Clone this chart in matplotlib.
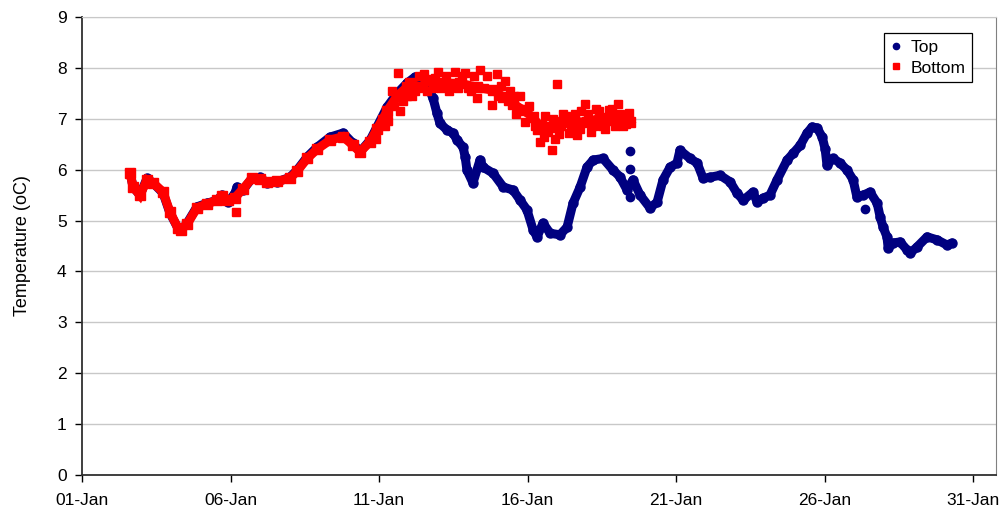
import numpy as np
import pandas as pd
import matplotlib
matplotlib.use('Agg')
import matplotlib.pyplot as plt
import matplotlib.dates as mdates
from matplotlib.lines import Line2D

plt.rcParams['font.family'] = ['Liberation Sans', 'DejaVu Sans']

# days since 01-Jan 00:00, temperature in oC
top_day = [1.62, 1.72, 1.95, 2.19, 2.39, 2.73, 2.96, 3.23, 3.33, 3.54, 3.87, 4.21, 4.55, 4.71, 4.92,
           5.15, 5.22, 5.42, 5.72, 5.99, 6.23, 6.57, 7.00, 7.24, 7.58, 7.91, 8.35, 8.79, 9.12, 9.36,
           9.70, 9.93, 10.27, 10.61, 10.94, 11.21, 11.55, 11.82, 11.95, 12.05, 12.29, 12.49, 12.63, 12.83, 12.90,
           12.96, 13.16, 13.40, 13.50, 13.84, 14.18, 14.51, 14.75, 14.98, 15.19, 15.32, 15.52, 15.76, 16.09, 16.33,
           16.53, 16.77, 17.00, 17.21, 17.54, 17.88, 18.11, 18.35, 18.55, 18.79, 19.12, 19.36, 19.56, 19.80, 20.03,
           20.13, 20.47, 20.71, 20.91, 21.14, 21.48, 21.82, 22.05, 22.26, 22.59, 22.73, 22.93, 23.16, 23.40, 23.74,
           23.94, 24.18, 24.41, 24.58, 24.75, 24.92, 25.02, 25.08, 25.29, 25.52, 25.76, 25.96, 26.09, 26.30, 26.53,
           26.77, 26.87, 26.97, 27.10, 27.14, 27.31, 27.54, 27.78, 27.88, 28.11, 28.45, 28.79, 29.12, 29.29]
top_temp = [5.93, 5.66, 5.50, 5.83, 5.74, 5.54, 5.15, 4.85, 4.81, 4.95, 5.27, 5.34, 5.40, 5.50, 5.36,
            5.54, 5.66, 5.60, 5.83, 5.85, 5.74, 5.76, 5.85, 5.99, 6.25, 6.44, 6.64, 6.72, 6.52, 6.35,
            6.58, 6.84, 7.23, 7.50, 7.70, 7.82, 7.76, 7.40, 7.11, 6.91, 6.78, 6.72, 6.58, 6.44, 6.25,
            5.99, 5.74, 6.19, 6.05, 5.93, 5.66, 5.60, 5.40, 5.21, 4.81, 4.68, 4.95, 4.75, 4.72, 4.87,
            5.34, 5.66, 6.05, 6.19, 6.22, 5.99, 5.86, 5.60, 5.80, 5.50, 5.25, 5.36, 5.80, 6.05, 6.13,
            6.38, 6.22, 6.13, 5.83, 5.85, 5.89, 5.76, 5.54, 5.40, 5.56, 5.36, 5.44, 5.50, 5.80, 6.19,
            6.32, 6.48, 6.72, 6.84, 6.82, 6.64, 6.40, 6.09, 6.22, 6.13, 5.99, 5.80, 5.46, 5.50, 5.56,
            5.34, 5.07, 4.87, 4.68, 4.46, 4.56, 4.58, 4.42, 4.36, 4.48, 4.68, 4.62, 4.52, 4.56]

# stray Top readings
top_out_day = [18.45, 18.45, 18.45, 26.36]
top_out_temp = [6.37, 6.01, 5.46, 5.22]

bottom_day = [1.62, 1.72, 1.95, 2.19, 2.39, 2.73, 2.96, 3.23, 3.33, 3.54, 3.87, 4.21, 4.55, 4.71, 4.92,
              5.15, 5.42, 5.72, 5.99, 6.23, 6.57, 7.00, 7.24, 7.58, 7.91, 8.35, 8.79, 9.12, 9.36, 9.70,
              9.93, 10.27, 10.61, 10.94, 11.04, 11.38, 11.72, 12.15, 12.73, 13.30, 13.84, 14.18, 14.51, 14.85,
              15.19, 15.42, 15.76, 16.09, 16.53, 17.00, 17.44, 17.88, 18.35, 18.45]
bottom_temp = [5.93, 5.66, 5.50, 5.80, 5.74, 5.56, 5.17, 4.85, 4.82, 4.93, 5.25, 5.33, 5.40, 5.48, 5.40,
               5.45, 5.62, 5.83, 5.82, 5.75, 5.77, 5.83, 5.97, 6.22, 6.40, 6.58, 6.65, 6.48, 6.35, 6.55,
               6.80, 7.15, 7.45, 7.62, 7.70, 7.62, 7.76, 7.70, 7.70, 7.62, 7.56, 7.43, 7.30, 7.17,
               7.03, 6.84, 6.84, 6.88, 6.94, 6.94, 7.01, 7.03, 7.01, 6.94]

# scattered Bottom readings around the trace
bottom_sc_day = [5.19, 9.90, 10.10, 10.20, 10.30, 10.45, 10.50, 10.64, 10.70, 10.80, 10.95, 11.10, 11.20,
                 11.35, 11.50, 11.60, 11.80, 11.90, 12.00, 12.10, 12.25, 12.35, 12.45, 12.55, 12.65, 12.80,
                 12.90, 13.00, 13.10, 13.20, 13.30, 13.40, 13.55, 13.65, 13.80, 13.97, 14.00, 14.10, 14.25,
                 14.35, 14.40, 14.55, 14.60, 14.70, 14.75, 14.90, 15.05, 15.25, 15.32, 15.42, 15.50, 15.55,
                 15.60, 15.70, 15.82, 15.85, 15.93, 15.99, 16.05, 16.15, 16.20, 16.30, 16.40, 16.45, 16.60,
                 16.67, 16.75, 16.80, 16.94, 17.05, 17.15, 17.20, 17.30, 17.40, 17.50, 17.60, 17.70, 17.75,
                 17.85, 17.95, 18.05, 18.10, 18.20, 18.30, 18.40]
bottom_sc_temp = [5.17, 6.60, 7.00, 6.85, 6.95, 7.55, 7.25, 7.90, 7.15, 7.35, 7.45, 7.45, 7.55,
                  7.85, 7.88, 7.55, 7.60, 7.80, 7.92, 7.60, 7.85, 7.55, 7.62, 7.92, 7.60, 7.85,
                  7.90, 7.60, 7.55, 7.85, 7.40, 7.96, 7.60, 7.85, 7.28, 7.88, 7.45, 7.65, 7.75,
                  7.35, 7.55, 7.45, 7.10, 7.20, 7.45, 6.94, 7.25, 6.85, 6.78, 6.54, 6.90, 6.65,
                  7.05, 6.75, 6.38, 7.00, 6.60, 7.68, 6.70, 6.95, 7.10, 7.05, 6.72, 6.80, 7.10,
                  6.68, 6.80, 7.15, 7.30, 7.10, 6.75, 6.85, 7.20, 7.15, 6.85, 6.80, 6.95, 7.18,
                  7.20, 6.85, 7.30, 7.10, 6.85, 6.90, 7.12]

start = pd.Timestamp('2009-01-01')


def to_dates(days):
    return start + pd.to_timedelta(np.array(days), unit='D')


navy = '#000080'
red = '#FF0000'

fig = plt.figure(figsize=(10, 5.16), dpi=100)
ax = fig.add_axes([0.082, 0.0795, 0.914, 0.8875])

ax.plot(to_dates(top_day), top_temp, '-', color=navy, lw=6.5, solid_joinstyle='round',
        solid_capstyle='round', marker='o', ms=6.5, zorder=2)
ax.plot(to_dates(top_out_day), top_out_temp, 'o', color=navy, ms=6, zorder=2)

ax.plot(to_dates(bottom_day), bottom_temp, '-', color=red, lw=6.5, solid_joinstyle='miter',
        marker='s', ms=6.5, zorder=3)
ax.plot(to_dates(bottom_sc_day), bottom_sc_temp, 's', color=red, ms=6, zorder=3)

# axes
ax.set_ylim(0, 9)
ax.set_yticks(range(0, 10))
ax.set_xlim(start, start + pd.Timedelta(days=30.77))
ax.xaxis.set_major_locator(mdates.DayLocator(bymonthday=[1, 6, 11, 16, 21, 26, 31]))
ax.xaxis.set_major_formatter(mdates.DateFormatter('%d-%b'))
ax.grid(axis='y', color='#c8c8c8', lw=1)
ax.set_axisbelow(True)
ax.tick_params(labelsize=12.5, direction='out', length=5, width=1, colors='black', pad=6)
ax.tick_params(axis='x', pad=8)
ax.set_ylabel('Temperature (oC)', fontsize=13, labelpad=19)

ax.spines['left'].set_color('#303030')
ax.spines['bottom'].set_color('#303030')
ax.spines['left'].set_linewidth(1.3)
ax.spines['bottom'].set_linewidth(1.3)
ax.spines['top'].set_color('#c8c8c8')
ax.spines['right'].set_color('#808080')

handles = [Line2D([], [], ls='', marker='o', color=navy, ms=4.5),
           Line2D([], [], ls='', marker='s', color=red, ms=4.5)]
leg = ax.legend(handles, ['Top', 'Bottom'], loc='upper right', bbox_to_anchor=(0.974, 0.965),
                borderaxespad=0, fontsize=12.5, fancybox=False, framealpha=1,
                handlelength=0.6, handletextpad=0.5, borderpad=0.4, labelspacing=0.3)
leg.get_frame().set_edgecolor('black')
leg.get_frame().set_linewidth(0.9)

fig.savefig('out.png', dpi=100)
